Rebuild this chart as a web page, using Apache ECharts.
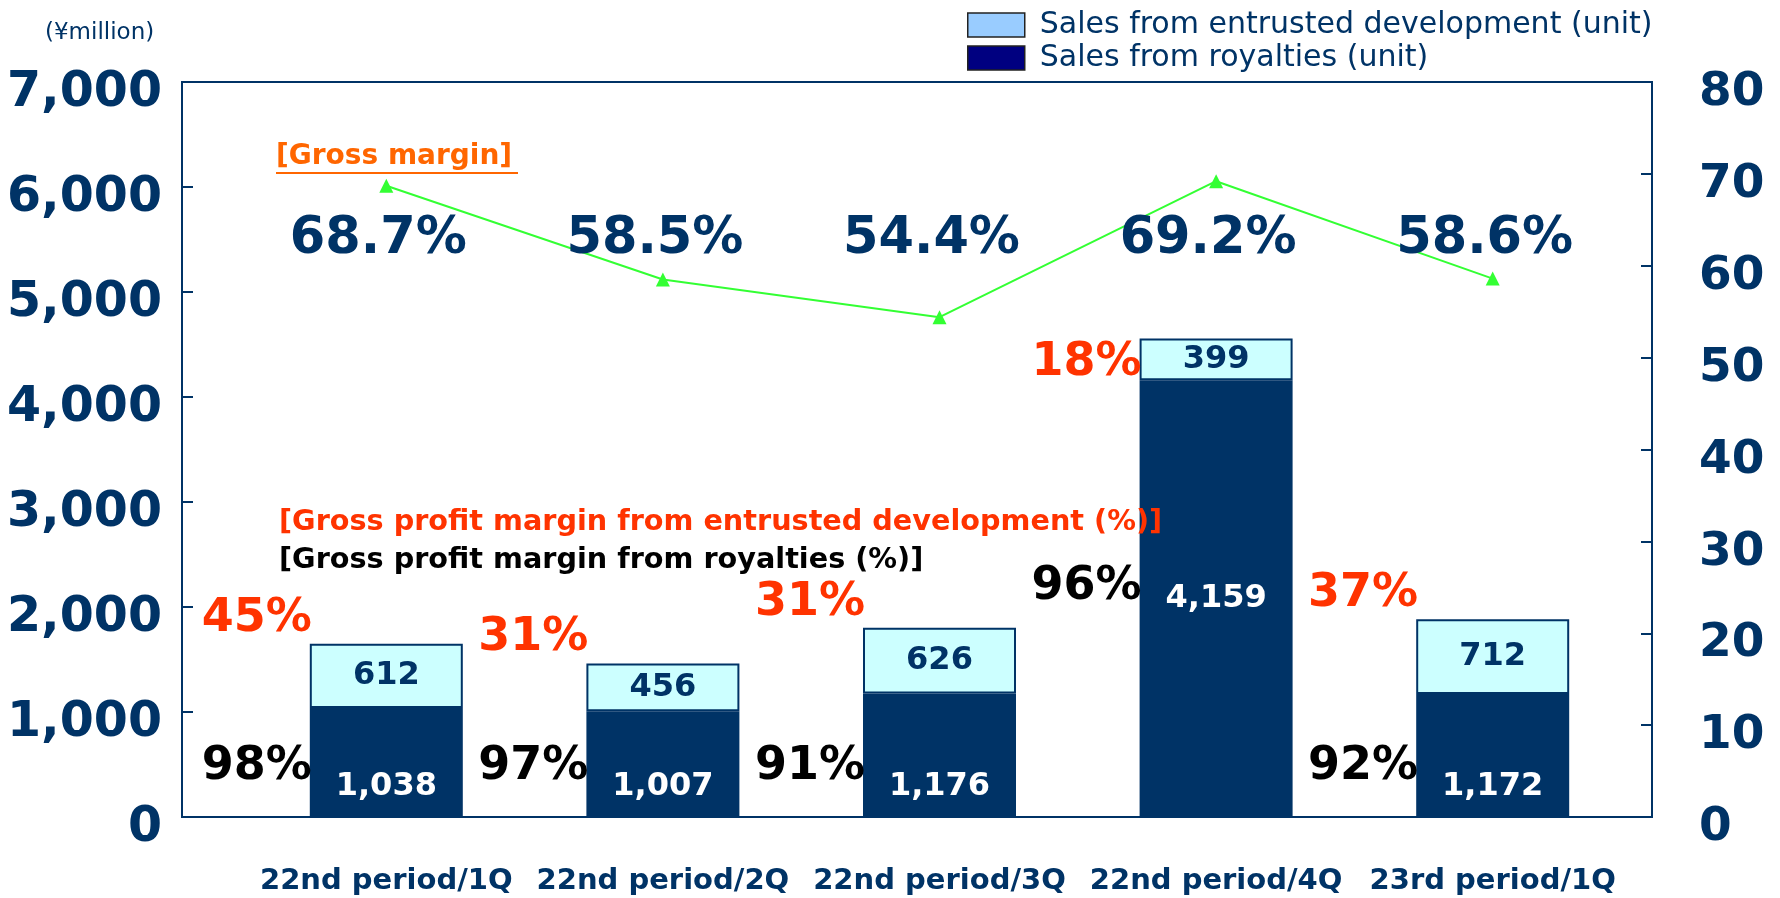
<!DOCTYPE html>
<html>
<head>
<meta charset="utf-8">
<script src="https://cdn.jsdelivr.net/npm/echarts@6/dist/echarts.min.js"></script>
<style>
html, body { margin: 0; padding: 0; background: #fff; }
#main { width: 1780px; height: 898px; }
</style>
</head>
<body>
<div id="main"></div>
<script>
// chart data
var categories = ['22nd period/1Q', '22nd period/2Q', '22nd period/3Q', '22nd period/4Q', '23rd period/1Q'];
var royaltySales = [1038, 1007, 1176, 4159, 1172];
var entrustedSales = [612, 456, 626, 399, 712];
var grossMargin = [68.7, 58.5, 54.4, 69.2, 58.6];
var entrustedMargin = [45, 31, 31, 18, 37];
var royaltyMargin = [98, 97, 91, 96, 92];

var navy = '#003366';
var fontName = '"DejaVu Sans"';
var barWidth = 153;

function fmt(v) {
    return Number(v).toLocaleString('en-US');
}

// labels left of each bar: entrusted margin (orange) and royalty margin (black)
function renderSideLabels(params, api) {
    var i = api.value(0);
    var roy = api.value(1);
    var ent = api.value(2);
    var base = api.coord([i, 0]);
    var mid = api.coord([i, roy]);
    var top = api.coord([i, roy + ent]);
    var x = base[0] - barWidth / 2 + 2;
    var big = roy > 3000;
    var entY = big ? (top[1] + mid[1]) / 2 + 4 : top[1] - 25;
    var royY = big ? (mid[1] + base[1]) / 2 - 12 : base[1] - 50;
    return {
        type: 'group',
        children: [
            {
                type: 'text',
                style: {
                    text: api.value(3) + '%', x: x, y: entY,
                    align: 'right', verticalAlign: 'middle',
                    textAlign: 'right', textVerticalAlign: 'middle',
                    fill: '#ff3300', font: 'bold 46px ' + fontName
                }
            },
            {
                type: 'text',
                style: {
                    text: api.value(4) + '%', x: x, y: royY,
                    align: 'right', verticalAlign: 'middle',
                    textAlign: 'right', textVerticalAlign: 'middle',
                    fill: '#000000', font: 'bold 46px ' + fontName
                }
            }
        ]
    };
}

// gross margin values, one row under the heading
function renderMarginLabels(params, api) {
    var p = api.coord([api.value(0), api.value(1)]);
    return {
        type: 'text',
        style: {
            text: api.value(1).toFixed(1) + '%',
            x: p[0] - 8, y: params.coordSys.y + 158,
            align: 'center', verticalAlign: 'middle',
            textAlign: 'center', textVerticalAlign: 'middle',
            fill: navy, font: 'bold 51px ' + fontName
        }
    };
}

var chartDom = document.getElementById('main');
var myChart = echarts.init(chartDom);
var option;

option = {
    animation: false,
    backgroundColor: '#ffffff',
    textStyle: { fontFamily: 'DejaVu Sans' },
    grid: [
        { left: 182, right: 128, top: 82, bottom: 81, show: true, borderColor: navy, borderWidth: 2, backgroundColor: 'transparent' },
        { left: 248, right: 149, top: 82, bottom: 81 }
    ],
    legend: {
        orient: 'vertical',
        left: 962,
        top: 5,
        itemWidth: 57,
        itemHeight: 24,
        itemGap: 3,
        icon: 'rect',
        textStyle: { color: navy, fontSize: 30, padding: [0, 0, 0, 10] },
        data: [
            { name: 'Sales from entrusted development (unit)', itemStyle: { color: '#99ccff', borderColor: '#222222', borderWidth: 1.5 } },
            { name: 'Sales from royalties (unit)', itemStyle: { color: '#000080', borderColor: '#222222', borderWidth: 1.5 } }
        ]
    },
    graphic: [
        {
            type: 'text', x: 45, y: 33, z: 100,
            style: { text: '(¥million)', fill: navy, font: '23px ' + fontName, verticalAlign: 'middle', textVerticalAlign: 'middle' }
        },
        {
            type: 'text', x: 276, y: 157, z: 100,
            style: { text: '[Gross margin]', fill: '#ff6600', font: 'bold 28px ' + fontName, verticalAlign: 'middle', textVerticalAlign: 'middle' }
        },
        {
            type: 'line', z: 100,
            shape: { x1: 276, y1: 173, x2: 518, y2: 173 },
            style: { stroke: '#ff6600', lineWidth: 2 }
        },
        {
            type: 'text', x: 279, y: 523, z: 100,
            style: { text: '[Gross profit margin from entrusted development (%)]', fill: '#ff3300', font: 'bold 28.7px ' + fontName, verticalAlign: 'middle', textVerticalAlign: 'middle' }
        },
        {
            type: 'text', x: 279, y: 561, z: 100,
            style: { text: '[Gross profit margin from royalties (%)]', fill: '#000000', font: 'bold 28.7px ' + fontName, verticalAlign: 'middle', textVerticalAlign: 'middle' }
        }
    ],
    xAxis: [
        { gridIndex: 0, type: 'value', show: false },
        {
            gridIndex: 1,
            type: 'category',
            data: categories,
            axisLine: { show: false },
            axisTick: { show: false },
            axisLabel: { color: navy, fontWeight: 'bold', fontSize: 29, margin: 50, interval: 0 }
        }
    ],
    yAxis: [
        { gridIndex: 0, type: 'value', show: false },
        {
            gridIndex: 1,
            type: 'value',
            position: 'left',
            offset: 66,
            min: 0,
            max: 7000,
            interval: 1000,
            splitLine: { show: false },
            axisLine: { show: false },
            axisTick: { show: true, inside: true, length: 11, lineStyle: { color: navy, width: 2 } },
            axisLabel: { color: navy, fontWeight: 'bold', fontSize: 49, margin: 20, verticalAlign: 'top', lineHeight: 22, formatter: fmt }
        },
        {
            gridIndex: 1,
            type: 'value',
            position: 'right',
            offset: 21,
            min: 0,
            max: 80,
            interval: 10,
            splitLine: { show: false },
            axisLine: { show: false },
            axisTick: { show: true, inside: true, length: 11, lineStyle: { color: navy, width: 2 } },
            axisLabel: { color: navy, fontWeight: 'bold', fontSize: 47, margin: 47, verticalAlign: 'top', lineHeight: 22 }
        }
    ],
    series: [
        {
            name: 'Sales from royalties (unit)',
            type: 'bar',
            xAxisIndex: 1,
            yAxisIndex: 1,
            stack: 'sales',
            barWidth: barWidth,
            data: royaltySales.map(function (v) {
                return v > 3000 ? { value: v, label: { position: 'inside' } } : v;
            }),
            itemStyle: { color: navy },
            label: {
                show: true,
                position: 'insideBottom',
                distance: 14,
                color: '#ffffff',
                fontWeight: 'bold',
                fontSize: 32,
                formatter: function (p) { return fmt(p.value); }
            }
        },
        {
            name: 'Sales from entrusted development (unit)',
            type: 'bar',
            xAxisIndex: 1,
            yAxisIndex: 1,
            stack: 'sales',
            barWidth: barWidth,
            data: entrustedSales,
            itemStyle: { color: '#ccffff', borderColor: navy, borderWidth: 2 },
            label: {
                show: true,
                position: 'inside',
                color: navy,
                fontWeight: 'bold',
                fontSize: 32,
                formatter: function (p) { return fmt(p.value); }
            }
        },
        {
            name: 'Gross margin',
            type: 'line',
            xAxisIndex: 1,
            yAxisIndex: 2,
            data: grossMargin,
            symbol: 'triangle',
            symbolSize: 14,
            lineStyle: { color: '#33ff33', width: 2 },
            itemStyle: { color: '#33ff33' },
            z: 5
        },
        {
            type: 'custom',
            xAxisIndex: 1,
            yAxisIndex: 1,
            renderItem: renderSideLabels,
            data: categories.map(function (c, i) {
                return [i, royaltySales[i], entrustedSales[i], entrustedMargin[i], royaltyMargin[i]];
            }),
            z: 6
        },
        {
            type: 'custom',
            xAxisIndex: 1,
            yAxisIndex: 2,
            renderItem: renderMarginLabels,
            data: grossMargin.map(function (v, i) { return [i, v]; }),
            z: 6
        }
    ]
};

option && myChart.setOption(option);
</script>
</body>
</html>
